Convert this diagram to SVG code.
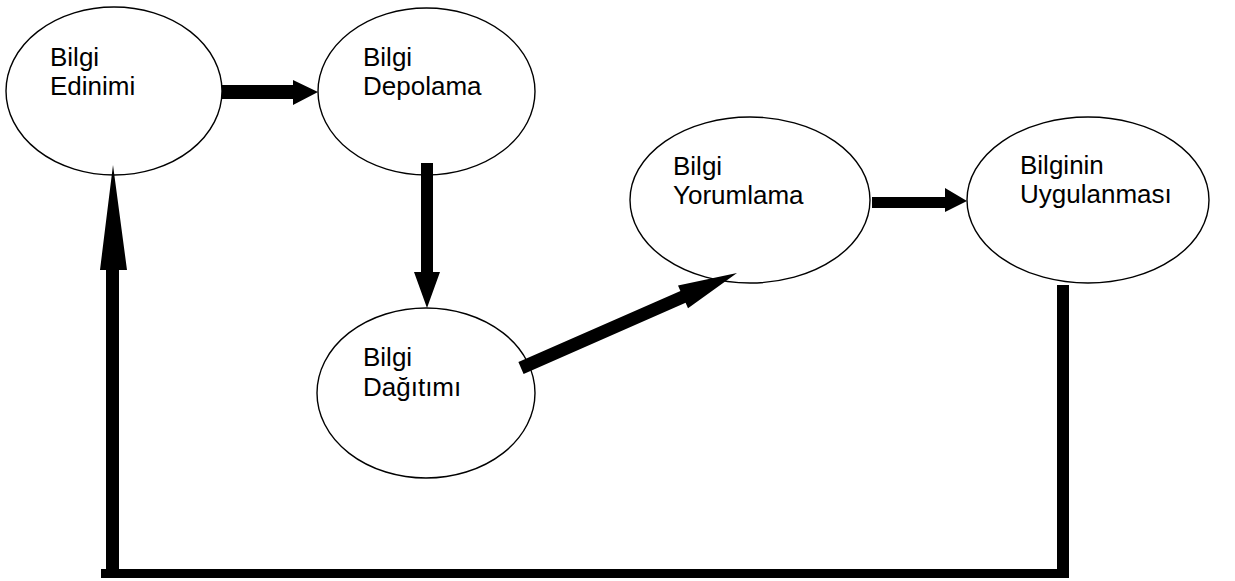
<svg xmlns="http://www.w3.org/2000/svg" width="1235" height="581" viewBox="0 0 1235 581">
<style>
.node ellipse{fill:#fff;stroke:#000;stroke-width:1.4}
.node text{font-family:"Liberation Sans",Arial,sans-serif;font-size:26px;fill:#000}
.conn path{fill:#000;stroke:none}
</style>
<rect width="1235" height="581" fill="#fff"/>
<g id="n-edinimi" class="node">
<ellipse cx="114" cy="91" rx="108" ry="84"/>
<text x="50" y="66">Bilgi</text>
<text x="50" y="95">Edinimi</text>
</g>
<g id="n-depolama" class="node">
<ellipse cx="426.5" cy="91.5" rx="108.5" ry="83.5"/>
<text x="363" y="66">Bilgi</text>
<text x="363" y="95">Depolama</text>
</g>
<g id="n-yorumlama" class="node">
<ellipse cx="750" cy="200" rx="120" ry="83"/>
<text x="673" y="175">Bilgi</text>
<text x="673" y="204">Yorumlama</text>
</g>
<g id="n-uygulanmasi" class="node">
<ellipse cx="1088" cy="200" rx="121" ry="83"/>
<text x="1020" y="174">Bilginin</text>
<text x="1020" y="203">Uygulanması</text>
</g>
<g id="n-dagitimi" class="node">
<ellipse cx="426" cy="393" rx="109" ry="85"/>
<text x="363" y="366">Bilgi</text>
<text x="363" y="396">Dağıtımı</text>
</g>
<g id="connectors" class="conn">
<path d="M222,85 H293 V80 L318,92 L293,105 V99 H222 Z"/>
<path d="M421,163 H433 V272 H440 L427,308 L414,272 H421 Z"/>
<path d="M518.4,362.1 L680.4,290.9 L678,285.4 L737,273 L688,308.2 L685.6,302.7 L523.6,373.9 Z"/>
<path d="M872,197 H945 V188 L967,201 L945,212 V208 H872 Z"/>
<path d="M1057,285 H1069 V578 H101 V569 H106 V270 H100 L113,165 L127,270 H119 V569 H1057 Z"/>
</g>
</svg>
